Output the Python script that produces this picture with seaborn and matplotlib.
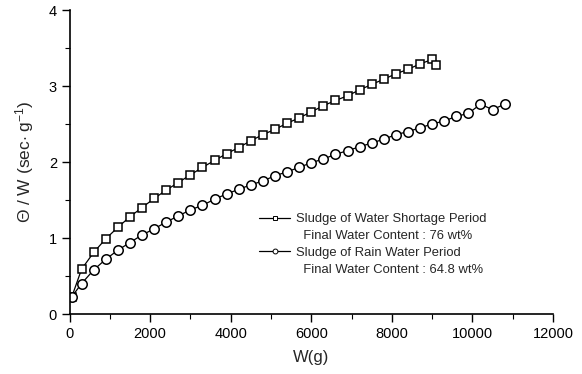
import matplotlib
matplotlib.use("Agg")
import matplotlib.pyplot as plt
import seaborn as sns
import pandas as pd
from matplotlib.lines import Line2D
from matplotlib.ticker import MultipleLocator

# ---- data ----
sq_x = [60, 300, 600, 900, 1200, 1500, 1800, 2100, 2400, 2700, 3000, 3300, 3600,
        3900, 4200, 4500, 4800, 5100, 5400, 5700, 6000, 6300, 6600, 6900, 7200,
        7500, 7800, 8100, 8400, 8700, 9000, 9100]
sq_y = [0.23, 0.59, 0.81, 0.99, 1.14, 1.28, 1.40, 1.52, 1.63, 1.73, 1.83, 1.93,
        2.02, 2.11, 2.19, 2.28, 2.36, 2.43, 2.51, 2.58, 2.66, 2.74, 2.81, 2.87,
        2.95, 3.02, 3.09, 3.16, 3.22, 3.29, 3.35, 3.27]

ci_x = [60, 300, 600, 900, 1200, 1500, 1800, 2100, 2400, 2700, 3000, 3300, 3600,
        3900, 4200, 4500, 4800, 5100, 5400, 5700, 6000, 6300, 6600, 6900, 7200,
        7500, 7800, 8100, 8400, 8700, 9000, 9300, 9600, 9900, 10200, 10500, 10800]
ci_y = [0.23, 0.40, 0.58, 0.72, 0.84, 0.94, 1.04, 1.12, 1.21, 1.29, 1.37, 1.43,
        1.51, 1.58, 1.64, 1.70, 1.75, 1.82, 1.87, 1.93, 1.99, 2.04, 2.10, 2.15,
        2.20, 2.25, 2.30, 2.36, 2.40, 2.45, 2.50, 2.54, 2.60, 2.64, 2.76, 2.69, 2.76]

series_labels = ["Sludge of Water Shortage Period", "Sludge of Rain Water Period"]
series_notes = ["Final Water Content : 76 wt%", "Final Water Content : 64.8 wt%"]
x_ticks = [0, 2000, 4000, 6000, 8000, 10000, 12000]
y_ticks = [0, 1, 2, 3, 4]

sns.set_style("ticks")
plt.rcParams["font.family"] = ["Liberation Sans", "DejaVu Sans"]
plt.rcParams["mathtext.fontset"] = "custom"
plt.rcParams["mathtext.rm"] = "Liberation Sans"
plt.rcParams["mathtext.it"] = "Liberation Sans:italic"

fig = plt.figure(figsize=(5.82, 3.74), dpi=100)
ax = fig.add_axes([69.5 / 582, 60 / 374, (553 - 69.5) / 582, (314 - 10) / 374])

df_sq = pd.DataFrame({"W": sq_x, "T": sq_y})
df_ci = pd.DataFrame({"W": ci_x, "T": ci_y})

sns.lineplot(data=df_sq, x="W", y="T", ax=ax, color="black", linewidth=0.9,
             marker="s", markersize=6.4, markerfacecolor="white",
             markeredgecolor="black", markeredgewidth=1.1, sort=False)
sns.lineplot(data=df_ci, x="W", y="T", ax=ax, color="black", linewidth=0.9,
             marker="o", markersize=6.8, markerfacecolor="white",
             markeredgecolor="black", markeredgewidth=1.1, sort=False)

ax.set_xlim(0, 12000)
ax.set_ylim(0, 4)
ax.set_xticks(x_ticks)
ax.set_yticks(y_ticks)
ax.xaxis.set_minor_locator(MultipleLocator(1000))
ax.yaxis.set_minor_locator(MultipleLocator(0.5))
ax.tick_params(which="major", direction="out", length=6, width=1, labelsize=10.5,
               color="black", labelcolor="black", pad=3)
ax.tick_params(which="minor", direction="out", length=3.5, width=0.8, color="black")
sns.despine(ax=ax, top=True, right=True)
for s in ["left", "bottom"]:
    ax.spines[s].set_color("black")
    ax.spines[s].set_linewidth(1.2)

ax.set_xlabel("W(g)", fontsize=12, labelpad=7)
ax.set_ylabel(r"$\Theta$ / W (sec$\cdot$ g$^{-1}$)", fontsize=12.5, labelpad=9)

h_sq = Line2D([], [], color="black", linewidth=0.9, marker="s", markersize=3.5,
              markerfacecolor="white", markeredgecolor="black", markeredgewidth=0.7)
h_ci = Line2D([], [], color="black", linewidth=0.9, marker="o", markersize=3.5,
              markerfacecolor="white", markeredgecolor="black", markeredgewidth=0.7)
h_blank = Line2D([], [], color="none", linewidth=0)
leg = ax.legend([h_sq, h_blank, h_ci, h_blank],
                [series_labels[0], "  " + series_notes[0],
                 series_labels[1], "  " + series_notes[1]],
                loc="upper left", bbox_to_anchor=(259 / 582, 1 - 213 / 374),
                bbox_transform=fig.transFigure, frameon=False, fontsize=9.4,
                handlelength=2.4, handletextpad=0.4, labelspacing=0.36,
                borderpad=0, borderaxespad=0)

fig.savefig("out.png", dpi=100, facecolor="white")
